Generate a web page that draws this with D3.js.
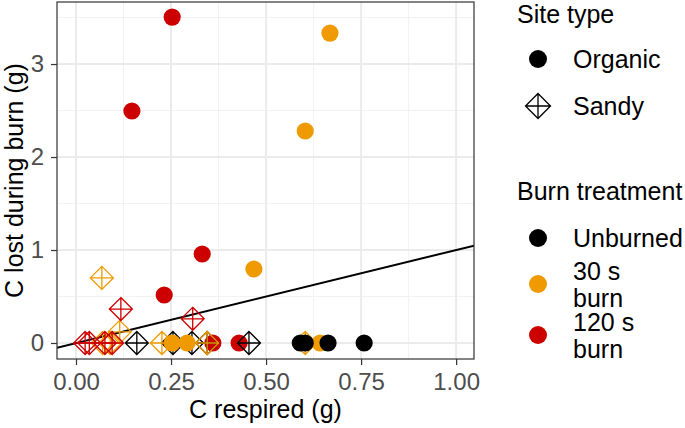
<!DOCTYPE html>
<html>
<head>
<meta charset="utf-8">
<script src="https://cdn.jsdelivr.net/npm/d3@7"></script>
<style>
  body { margin: 0; background: #fff; }
  svg { display: block; font-family: "Liberation Sans", Arial, sans-serif; }
</style>
</head>
<body>
<svg id="chart" width="685" height="428"></svg>
<script>
// categories
const siteTypes = ["Organic", "Sandy"];
const burnLevels = ["Unburned", "30 s burn", "120 s burn"];
const burnLabels = [["Unburned"], ["30 s", "burn"], ["120 s", "burn"]];
const burnColours = ["#000000", "#EE9A00", "#CD0000"];

// [C respired, C lost during burn] per site type / burn treatment
const organicUnburned = [[0.590, 0], [0.603, 0], [0.663, 0], [0.758, 0]];
const organic30 = [[0.668, 3.333], [0.603, 2.28], [0.468, 0.796], [0.253, 0], [0.292, 0], [0.642, 0]];
const organic120 = [[0.253, 3.505], [0.147, 2.495], [0.332, 0.957], [0.232, 0.516], [0.429, 0], [0.360, 0]];
const sandyUnburned = [[0.160, 0], [0.255, 0], [0.305, 0], [0.345, 0], [0.455, 0]];
const sandy30 = [[0.068, 0.70], [0.115, 0.12], [0.070, 0], [0.090, 0], [0.226, 0], [0.345, 0], [0.603, 0]];
const sandy120 = [[0.024, 0], [0.035, 0], [0.076, 0], [0.095, 0], [0.118, 0.365], [0.307, 0.26]];

// axes
const xDomain = [-0.05, 1.047];
const yDomain = [-0.172, 3.667];
const xTicks = [0, 0.25, 0.5, 0.75, 1.0];
const xMinor = [0.125, 0.375, 0.625, 0.875];
const yTicks = [0, 1, 2, 3];
const yMinor = [0.5, 1.5, 2.5, 3.5];

const panel = { left: 57, right: 474, top: 2, bottom: 359 };

const svg = d3.select("#chart");

const x = d3.scaleLinear().domain(xDomain).range([panel.left, panel.right]);
const y = d3.scaleLinear().domain(yDomain).range([panel.bottom, panel.top]);

// grid
const grid = svg.append("g");
grid.selectAll("line.xminor").data(xMinor).join("line")
  .attr("x1", d => x(d)).attr("x2", d => x(d))
  .attr("y1", panel.top).attr("y2", panel.bottom)
  .attr("stroke", "#F2F2F2").attr("stroke-width", 1);
grid.selectAll("line.yminor").data(yMinor).join("line")
  .attr("y1", d => y(d)).attr("y2", d => y(d))
  .attr("x1", panel.left).attr("x2", panel.right)
  .attr("stroke", "#F2F2F2").attr("stroke-width", 1);
grid.selectAll("line.xmajor").data(xTicks).join("line")
  .attr("x1", d => x(d)).attr("x2", d => x(d))
  .attr("y1", panel.top).attr("y2", panel.bottom)
  .attr("stroke", "#EBEBEB").attr("stroke-width", 2);
grid.selectAll("line.ymajor").data(yTicks).join("line")
  .attr("y1", d => y(d)).attr("y2", d => y(d))
  .attr("x1", panel.left).attr("x2", panel.right)
  .attr("stroke", "#EBEBEB").attr("stroke-width", 2);

// 1:1 line, clipped to panel
svg.append("clipPath").attr("id", "clip")
  .append("rect")
  .attr("x", panel.left).attr("y", panel.top)
  .attr("width", panel.right - panel.left).attr("height", panel.bottom - panel.top);

const marks = svg.append("g").attr("clip-path", "url(#clip)");

marks.append("line")
  .attr("x1", x(xDomain[0])).attr("y1", y(xDomain[0]))
  .attr("x2", x(xDomain[1])).attr("y2", y(xDomain[1]))
  .attr("stroke", "#000").attr("stroke-width", 2);

// diamond with a plus inside (ggplot shape 9)
function diamondPlus(h) {
  return `M0,${-h}L${h},0L0,${h}L${-h},0Z M0,${-h}V${h} M${-h},0H${h}`;
}

function drawPoints(g, data, site, colour) {
  const sel = g.append("g").selectAll("g").data(data).join("g")
    .attr("transform", d => `translate(${x(d[0])},${y(d[1])})`);
  if (site == "Organic") {
    sel.append("circle").attr("r", 8.6).attr("fill", colour);
  } else {
    sel.append("path").attr("d", diamondPlus(11.5))
      .attr("fill", "none").attr("stroke", colour).attr("stroke-width", 1.3);
  }
}

drawPoints(marks, organic120, "Organic", burnColours[2]);
drawPoints(marks, sandyUnburned, "Sandy", burnColours[0]);
drawPoints(marks, organic30, "Organic", burnColours[1]);
drawPoints(marks, sandy30, "Sandy", burnColours[1]);
drawPoints(marks, organicUnburned, "Organic", burnColours[0]);
drawPoints(marks, sandy120, "Sandy", burnColours[2]);

// panel border
svg.append("rect")
  .attr("x", panel.left).attr("y", panel.top)
  .attr("width", panel.right - panel.left).attr("height", panel.bottom - panel.top)
  .attr("fill", "none").attr("stroke", "#333").attr("stroke-width", 1.2);

// axes
const xAxis = svg.append("g")
  .attr("transform", `translate(0,${panel.bottom})`)
  .call(d3.axisBottom(x).tickValues(xTicks).tickFormat(d3.format(".2f")).tickSize(6).tickPadding(8));
const yAxis = svg.append("g")
  .attr("transform", `translate(${panel.left},0)`)
  .call(d3.axisLeft(y).tickValues(yTicks).tickFormat(d3.format("d")).tickSize(6).tickPadding(7));

[xAxis, yAxis].forEach(a => {
  a.select(".domain").remove();
  a.selectAll(".tick line").attr("stroke", "#333").attr("stroke-width", 1.2);
  a.selectAll(".tick text").attr("fill", "#4D4D4D").style("font-size", "24px")
    .style("font-family", "'Liberation Sans', Arial, sans-serif");
});

svg.append("text")
  .attr("x", (panel.left + panel.right) / 2).attr("y", 418)
  .attr("text-anchor", "middle").style("font-size", "25px")
  .text("C respired (g)");

svg.append("text")
  .attr("transform", `translate(23,${(panel.top + panel.bottom) / 2}) rotate(-90)`)
  .attr("text-anchor", "middle").style("font-size", "25px")
  .text("C lost during burn (g)");

// legends
const legend = svg.append("g");
const symX = 538, labX = 573;

legend.append("text").attr("x", 517).attr("y", 23).style("font-size", "25px").text("Site type");

const siteY = [59, 106];
siteTypes.forEach((s, i) => {
  if (s == "Organic") {
    legend.append("circle").attr("cx", symX).attr("cy", siteY[i]).attr("r", 9).attr("fill", "#000");
  } else {
    legend.append("path").attr("transform", `translate(${symX},${siteY[i]})`)
      .attr("d", diamondPlus(12.5)).attr("fill", "none").attr("stroke", "#000").attr("stroke-width", 1.3);
  }
  legend.append("text").attr("x", labX).attr("y", siteY[i] + 9).style("font-size", "25px").text(s);
});

legend.append("text").attr("x", 517).attr("y", 200).style("font-size", "25px").text("Burn treatment");

const burnY = [238, 284, 335];
burnLevels.forEach((b, i) => {
  legend.append("circle").attr("cx", symX).attr("cy", burnY[i]).attr("r", 9).attr("fill", burnColours[i]);
  const lines = burnLabels[i];
  const t = legend.append("text").attr("x", labX).style("font-size", "25px");
  lines.forEach((l, j) => {
    t.append("tspan").attr("x", labX)
      .attr("y", burnY[i] + 9 + (j - (lines.length - 1) / 2) * 27)
      .text(l);
  });
});
</script>
</body>
</html>
